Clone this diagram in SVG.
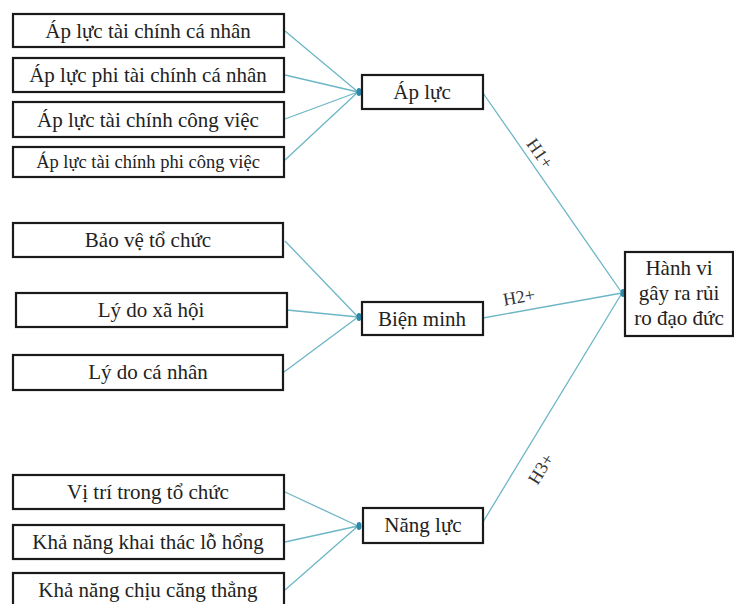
<svg xmlns="http://www.w3.org/2000/svg" width="734" height="604" viewBox="0 0 734 604">
<style>
.box{fill:#fff;stroke:#1a1a1a;stroke-width:2.2}
.t{font-family:"Liberation Serif","Times New Roman",serif;font-size:21px;fill:#222;text-anchor:middle}
.s{font-size:18.5px}
.lbl{font-family:"Liberation Serif","Times New Roman",serif;font-size:18px;fill:#333;text-anchor:middle}
.ln{stroke:#6cb6c6;stroke-width:1.3;fill:none}
.dot{fill:#2f8aa6}
</style>
<rect width="734" height="604" fill="#fff"/>
<g id="connectors">
<path class="ln" d="M285 31 L358 92 M285 75 L358 92 M285 119 L358 92 M285 160 L358 92"/>
<path class="ln" d="M285 241 L358 317 M287 310 L358 317 M284 372 L358 317"/>
<path class="ln" d="M285 492 L358 526 M285 542 L358 526 M285 590 L358 526"/>
<path class="ln" d="M483 93 L622 293 M483 318 L622 293 M483 522 L622 293"/>
<ellipse class="dot" cx="359" cy="92" rx="2.5" ry="4"/>
<ellipse class="dot" cx="359" cy="317" rx="2.5" ry="4"/>
<ellipse class="dot" cx="359" cy="526" rx="2.5" ry="4"/>
<ellipse class="dot" cx="623" cy="293" rx="2.5" ry="4"/>
<text class="lbl" transform="translate(535 157) rotate(55)">H1+</text>
<text class="lbl" transform="translate(520 303) rotate(-10)">H2+</text>
<text class="lbl" transform="translate(546 472) rotate(-58)">H3+</text>
</g>
<g id="n1"><rect class="box" x="13" y="14" width="271" height="33"/><text class="t" x="148" y="38">Áp lực tài chính cá nhân</text></g>
<g id="n2"><rect class="box" x="13" y="58" width="271" height="34"/><text class="t" x="148" y="82">Áp lực phi tài chính cá nhân</text></g>
<g id="n3"><rect class="box" x="13" y="102" width="271" height="35"/><text class="t" x="148" y="127">Áp lực tài chính công việc</text></g>
<g id="n4"><rect class="box" x="13" y="147" width="271" height="30"/><text class="t s" x="148" y="168">Áp lực tài chính phi công việc</text></g>
<g id="n5"><rect class="box" x="13" y="223" width="270" height="34"/><text class="t" x="148" y="247">Bảo vệ tổ chức</text></g>
<g id="n6"><rect class="box" x="16" y="293" width="271" height="34"/><text class="t" x="151" y="317">Lý do xã hội</text></g>
<g id="n7"><rect class="box" x="13" y="355" width="270" height="35"/><text class="t" x="148" y="379">Lý do cá nhân</text></g>
<g id="n8"><rect class="box" x="13" y="475" width="271" height="34"/><text class="t" x="148" y="499">Vị trí trong tổ chức</text></g>
<g id="n9"><rect class="box" x="13" y="525" width="271" height="34"/><text class="t" x="148" y="549">Khả năng khai thác lỗ hổng</text></g>
<g id="n10"><rect class="box" x="13" y="573" width="271" height="34"/><text class="t" x="148" y="597">Khả năng chịu căng thẳng</text></g>
<g id="apluc"><rect class="box" x="362" y="75" width="121" height="34"/><text class="t" x="422" y="99">Áp lực</text></g>
<g id="bienminh"><rect class="box" x="362" y="302" width="121" height="33"/><text class="t" x="422" y="326">Biện minh</text></g>
<g id="nangluc"><rect class="box" x="363" y="508" width="120" height="35"/><text class="t" x="423" y="532">Năng lực</text></g>
<g id="hanhvi"><rect class="box" x="625" y="252" width="108" height="84"/><text class="t" x="679" y="275">Hành vi</text><text class="t" x="679" y="300">gây ra rủi</text><text class="t" x="679" y="325">ro đạo đức</text></g>
</svg>
